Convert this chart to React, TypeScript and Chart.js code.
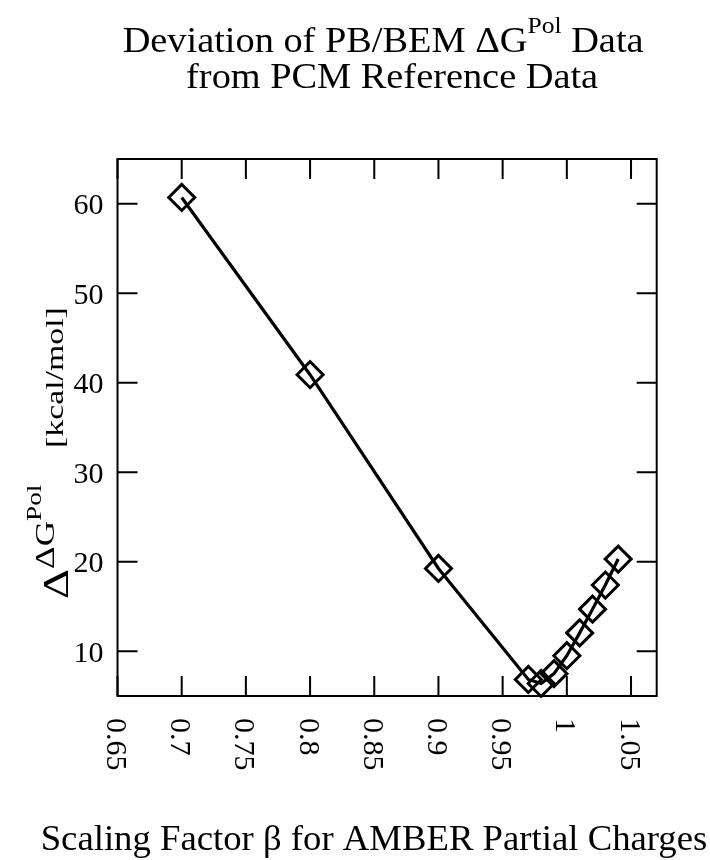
import React, { useEffect, useRef } from "react";
import { Chart, registerables } from "chart.js";

Chart.register(...registerables);

// ---- data ----
const betaValues = [0.7, 0.8, 0.9, 0.97, 0.98, 0.99, 1.0, 1.01, 1.02, 1.03, 1.04];
const deviationValues = [60.7, 40.9, 19.25, 6.85, 6.4, 7.5, 9.5, 12.05, 14.7, 17.4, 20.3];

const xTickValues = [0.65, 0.7, 0.75, 0.8, 0.85, 0.9, 0.95, 1.0, 1.05];
const xTickLabels = ["0.65", "0.7", "0.75", "0.8", "0.85", "0.9", "0.95", "1", "1.05"];
const yTickValues = [10, 20, 30, 40, 50, 60];
const yTickLabels = ["10", "20", "30", "40", "50", "60"];
const xRange = [0.65, 1.07];
const yRange = [5, 65];

const titleLine1 = ["Deviation of PB/BEM \u0394G", "Pol", " Data"];
const titleLine2 = "from PCM Reference Data";
const xAxisTitle = "Scaling Factor \u03b2 for AMBER Partial Charges";
const yAxisTitleParts = ["\u0394", "\u0394G", "Pol", "[kcal/mol]"];

const SERIF = '"Liberation Serif", "Times New Roman", "DejaVu Serif", serif';

type Run = { text: string; size: number; dy: number };

function runsWidth(ctx: CanvasRenderingContext2D, runs: Run[]) {
  let w = 0;
  for (const r of runs) {
    ctx.font = `${r.size}px ${SERIF}`;
    w += ctx.measureText(r.text).width;
  }
  return w;
}

function drawRuns(ctx: CanvasRenderingContext2D, runs: Run[], x: number, y: number) {
  let cx = x;
  for (const r of runs) {
    ctx.font = `${r.size}px ${SERIF}`;
    ctx.fillText(r.text, cx, y + r.dy);
    cx += ctx.measureText(r.text).width;
  }
  return cx;
}

const decorPlugin = {
  id: "decor",
  beforeDatasetsDraw(chart: any) {
    const ctx: CanvasRenderingContext2D = chart.ctx;
    const { left, right, top, bottom } = chart.chartArea;
    const xs = chart.scales.x;
    const ys = chart.scales.y;
    ctx.save();
    ctx.strokeStyle = "#000";
    ctx.lineWidth = 2;
    ctx.strokeRect(left, top, right - left, bottom - top);
    const tl = 20;
    ctx.beginPath();
    for (const v of xTickValues) {
      const px = xs.getPixelForValue(v);
      ctx.moveTo(px, bottom);
      ctx.lineTo(px, bottom - tl);
      ctx.moveTo(px, top);
      ctx.lineTo(px, top + tl);
    }
    for (const v of yTickValues) {
      const py = ys.getPixelForValue(v);
      ctx.moveTo(left, py);
      ctx.lineTo(left + tl, py);
      ctx.moveTo(right, py);
      ctx.lineTo(right - tl, py);
    }
    ctx.stroke();
    ctx.restore();
  },
  afterDraw(chart: any) {
    const ctx: CanvasRenderingContext2D = chart.ctx;
    const { left, right, bottom } = chart.chartArea;
    const xs = chart.scales.x;
    const ys = chart.scales.y;
    ctx.save();
    ctx.fillStyle = "#000";

    // y tick labels
    ctx.font = `30px ${SERIF}`;
    ctx.textAlign = "right";
    ctx.textBaseline = "alphabetic";
    yTickValues.forEach((v, i) => {
      const py = ys.getPixelForValue(v);
      ctx.fillText(yTickLabels[i], left - 14, py + 10.5);
    });

    // x tick labels, rotated clockwise
    ctx.textAlign = "left";
    xTickValues.forEach((v, i) => {
      const px = xs.getPixelForValue(v);
      ctx.save();
      ctx.translate(px, bottom + 22);
      ctx.rotate(Math.PI / 2);
      ctx.font = `30px ${SERIF}`;
      ctx.fillText(xTickLabels[i], 0, 10.5);
      ctx.restore();
    });

    // title
    const cx = (left + right) / 2;
    const hs = 1.065;
    const l1: Run[] = [
      { text: titleLine1[0], size: 36, dy: 0 },
      { text: titleLine1[1], size: 24, dy: -19 },
      { text: titleLine1[2], size: 36, dy: 0 },
    ];
    ctx.save();
    ctx.translate(cx - 4, 52);
    ctx.scale(hs, 1);
    const w1 = runsWidth(ctx, l1);
    drawRuns(ctx, l1, -w1 / 2, 0);
    ctx.restore();

    ctx.save();
    ctx.translate(cx + 5, 88);
    ctx.scale(hs, 1);
    ctx.font = `36px ${SERIF}`;
    ctx.textAlign = "center";
    ctx.fillText(titleLine2, 0, 0);
    ctx.restore();

    // x axis title
    ctx.save();
    ctx.translate(374, 850);
    ctx.scale(1.02, 1);
    ctx.font = `36px ${SERIF}`;
    ctx.textAlign = "center";
    ctx.fillText(xAxisTitle, 0, 0);
    ctx.restore();

    // y axis title (rotated, stretched along reading direction)
    const st = 1.3;
    ctx.save();
    ctx.textAlign = "left";
    ctx.translate(0, 599);
    ctx.rotate(-Math.PI / 2);
    ctx.scale(st, 1);
    let xp = 0;
    xp = drawRuns(ctx, [{ text: yAxisTitleParts[0], size: 36, dy: 0 }], 0, 68);
    xp = drawRuns(ctx, [{ text: yAxisTitleParts[1], size: 27, dy: 0 }], xp, 54);
    xp = drawRuns(ctx, [{ text: yAxisTitleParts[2], size: 21, dy: 0 }], xp, 41);
    drawRuns(ctx, [{ text: yAxisTitleParts[3], size: 26, dy: 0 }], (599 - 448) / st, 63);
    ctx.restore();

    ctx.restore();
  },
};

export default function App() {
  const ref = useRef<HTMLCanvasElement | null>(null);
  useEffect(() => {
    if (!ref.current) return;
    const W = 710;
    const H = 860;
    const chart = new Chart(ref.current, {
      type: "line",
      data: {
        datasets: [
          {
            data: betaValues.map((x, i) => ({ x, y: deviationValues[i] })),
            borderColor: "#000",
            borderWidth: 3.2,
            pointStyle: "rectRot",
            pointRadius: 13,
            pointBorderWidth: 3,
            pointBackgroundColor: "rgba(0,0,0,0)",
            pointBorderColor: "#000",
            tension: 0,
            clip: false,
          } as any,
        ],
      },
      options: {
        responsive: false,
        animation: false,
        devicePixelRatio: 1,
        events: [],
        layout: {
          padding: { left: 117.5, right: W - 656.7, top: 159, bottom: H - 696 },
        },
        plugins: {
          legend: { display: false },
          title: { display: false },
          tooltip: { enabled: false },
        },
        scales: {
          x: { type: "linear", min: xRange[0], max: xRange[1], display: false },
          y: { type: "linear", min: yRange[0], max: yRange[1], display: false },
        },
      },
      plugins: [decorPlugin],
    });
    return () => chart.destroy();
  }, []);
  return (
    <div style={{ position: "fixed", left: 0, top: 0, width: 710, height: 860, background: "#fff" }}>
      <canvas ref={ref} width={710} height={860} style={{ width: 710, height: 860, display: "block" }} />
    </div>
  );
}
